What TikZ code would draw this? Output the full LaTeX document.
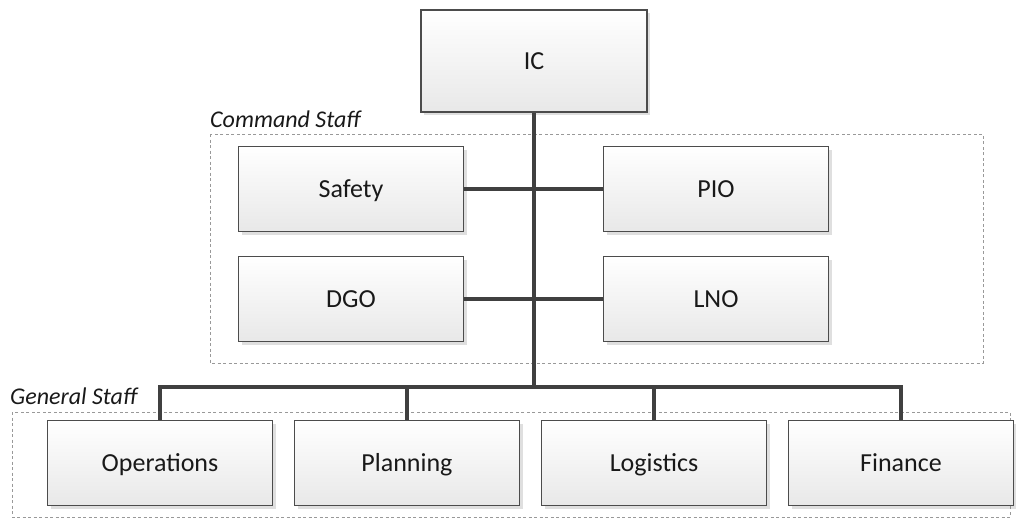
\documentclass[tikz,border=0pt]{standalone}
\usepackage{fontspec}
\setmainfont{Carlito}
\usetikzlibrary{positioning,shadows}

\begin{document}
\begin{tikzpicture}[x=1pt,y=-1pt,on grid,
    box/.style={draw=black!70,line width=1.2pt,minimum width=225pt,minimum height=85pt,
      top color=white,bottom color=black!9,text=black!90,
      text height=16.7pt,text depth=0pt,
      drop shadow={shadow xshift=3pt,shadow yshift=-3pt,opacity=.25,fill=black!50},
      font=\fontsize{26}{30}\selectfont},
    link/.style={draw=black!75,line width=3.5pt},
    staffline/.style={draw=black!40,dash pattern=on 3pt off 2.5pt,line width=1pt},
    tag/.style={font=\fontsize{24}{28}\selectfont\itshape,text=black!90,anchor=base west,inner sep=0pt}]
   \useasboundingbox (0,0) rectangle (1016,520);

   % staff frames
   \draw[staffline] (210,134) rectangle (983,363);
   \draw[staffline] (12,412) rectangle (1010,517);
   \node[tag] (cmdtag) at (210,127) {Command Staff};
   \node[tag] (gentag) at (10,404) {General Staff};

   \node[box,minimum width=226pt,minimum height=102pt] (ic) at (534,61) {IC};
   \node[box] (safety) [below left=128pt and 183pt of ic] {Safety};
   \node[box] (pio) [right=365pt of safety] {PIO};
   \node[box] (dgo) [below=110pt of safety] {DGO};
   \node[box] (lno) [right=365pt of dgo] {LNO};

   \node[box] (ops) at (160,463) {Operations};
   \node[box] (plan) [right=247pt of ops] {Planning};
   \node[box] (logi) [right=247pt of plan] {Logistics};
   \node[box] (fin) [right=247pt of logi] {Finance};

   \coordinate (bus) at (534,387);

   \path[link]
    (ic.south) edge (bus)
    (safety) edge (pio)
    (dgo) edge (lno);
   \draw[link] (ops.north) |- (bus) -| (fin.north);
   \draw[link] (bus) -| (plan.north);
   \draw[link] (bus) -| (logi.north);
\end{tikzpicture}
\end{document}
